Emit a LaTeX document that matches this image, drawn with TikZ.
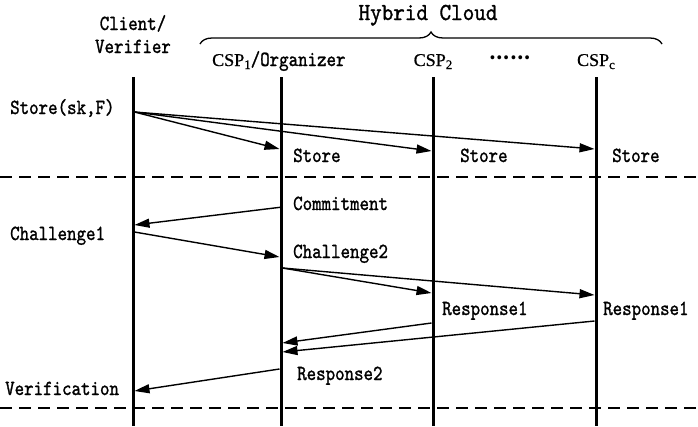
\documentclass[tikz,border=0pt]{standalone}
\usepackage{fontspec}
\newfontfamily\lblfont{lmmono10-regular.otf}[FakeStretch=0.84,FakeBold=1.2]
\newfontfamily\ttlfont{lmmono10-regular.otf}[FakeStretch=0.9,FakeBold=1.2]
\newfontfamily\serfont{Liberation Serif}[FakeBold=0.8]
\newfontfamily\cjk{Noto Sans CJK SC}
\usetikzlibrary{arrows.meta,decorations.pathreplacing}
\newcommand{\csp}[1]{{\serfont\fontsize{18}{18}\selectfont CSP\raisebox{-3pt}{\fontsize{13}{13}\selectfont #1}}}
\begin{document}
\begin{tikzpicture}[x=1pt,y=-1pt,
  lbl/.style={inner sep=0pt,font=\lblfont\fontsize{21.5}{23}\selectfont},
  lifeline/.style={line width=3pt},
  msg/.style={line width=1.4pt,-{Triangle[length=15pt,width=9pt]}},
  sep/.style={line width=1.5pt,dash pattern=on 12pt off 7pt}]
\useasboundingbox (0,0) rectangle (698,426);

% lifelines
\coordinate (clT) at (133,77);  \coordinate (clB) at (133,426);
\coordinate (c1T) at (281,77);  \coordinate (c1B) at (281,426);
\coordinate (c2T) at (433,77);  \coordinate (c2B) at (433,426);
\coordinate (ccT) at (596,77);  \coordinate (ccB) at (596,426);
\draw[lifeline] (clT) -- (clB);
\draw[lifeline] (c1T) -- (c1B);
\draw[lifeline] (c2T) -- (c2B);
\draw[lifeline] (ccT) -- (ccB);

% separators
\coordinate (d1L) at (0,177); \coordinate (d1R) at (698,177);
\coordinate (d2L) at (0,408); \coordinate (d2R) at (698,408);
\draw[sep] (d1L) -- (d1R);
\draw[sep] (d2L) -- (d2R);

% headers
\node[lbl,anchor=base] (hclient1) at (133,30) {Client/};
\node[lbl,anchor=base] (hclient2) at (133,53) {Verifier};
\node[inner sep=0pt,anchor=base,font=\ttlfont\fontsize{24.5}{25}\selectfont] (hybrid) at (428,20) {Hybrid Cloud};
\coordinate (brL) at (200,44); \coordinate (brR) at (662,44);
\draw[line width=1.3pt,decorate,decoration={brace,amplitude=12pt}] (brL) -- (brR);
\node[inner sep=0pt,anchor=base west] (hcsp1) at (212,66) {\csp{1}\lblfont\fontsize{21.5}{23}\selectfont/Organizer};
\node[inner sep=0pt,anchor=base] (hcsp2) at (433,66) {\csp{2}};
\node[inner sep=0pt,font=\cjk\bfseries\fontsize{18}{18}\selectfont] (hdots) at (510,58) {……};
\node[inner sep=0pt,anchor=base] (hcspc) at (596,66) {\csp{c}};

% message coordinates
\coordinate (s0) at (134.5,112);
\coordinate (s1) at (279.5,149);
\coordinate (s2) at (431.5,151);
\coordinate (s3) at (594.5,149);
\coordinate (m0) at (282.5,207);
\coordinate (m1) at (134.5,225);
\coordinate (h0) at (134.5,232);
\coordinate (h1) at (279.5,257);
\coordinate (g0) at (282.5,268);
\coordinate (g1) at (431.5,293);
\coordinate (g2) at (594.5,295);
\coordinate (r0) at (431.5,323);
\coordinate (r1) at (282.5,343);
\coordinate (q0) at (594.5,321);
\coordinate (q1) at (282.5,352);
\coordinate (v0) at (279.5,369);
\coordinate (v1) at (134.5,391);

\draw[msg] (s0) -- (s1);
\draw[msg] (s0) -- (s2);
\draw[msg] (s0) -- (s3);
\draw[msg] (m0) -- (m1);
\draw[msg] (h0) -- (h1);
\draw[msg] (g0) -- (g1);
\draw[msg] (g0) -- (g2);
\draw[msg] (r0) -- (r1);
\draw[msg] (q0) -- (q1);
\draw[msg] (v0) -- (v1);

% labels
\node[lbl,anchor=base west] (lstore) at (10,114) {Store(sk,F)};
\node[lbl,anchor=base west] (lst1) at (293,162) {Store};
\node[lbl,anchor=base west] (lst2) at (460,162) {Store};
\node[lbl,anchor=base west] (lst3) at (612,162) {Store};
\node[lbl,anchor=base west] (lcom) at (293,210) {Commitment};
\node[lbl,anchor=base west] (lch1) at (10,240) {Challenge1};
\node[lbl,anchor=base west] (lch2) at (293,258) {Challenge2};
\node[lbl,anchor=base west] (lre1) at (442,315) {Response1};
\node[lbl,anchor=base west] (lre1c) at (603,315) {Response1};
\node[lbl,anchor=base west] (lre2) at (297,380) {Response2};
\node[lbl,anchor=base west] (lver) at (5,395) {Verification};
\end{tikzpicture}
\end{document}
